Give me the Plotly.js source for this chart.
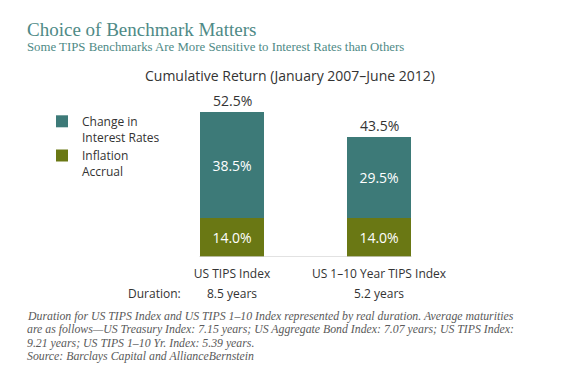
<!DOCTYPE html>
<html>
<head>
<meta charset="utf-8">
<script src="https://cdn.plot.ly/plotly-3.0.1.min.js"></script>
<style>
html,body{margin:0;padding:0;background:#fff;}
#chart{width:580px;height:381px;}
</style>
</head>
<body>
<div id="chart"></div>
<script>
// ---- data ----
const categories = ["US TIPS Index", "US 1\u201310 Year TIPS Index"];
const inflationAccrual = [14.0, 14.0];
const changeInRates = [38.5, 29.5];
const durations = ["8.5 years", "5.2 years"];
const seriesNames = ["Inflation<br>Accrual", "Change in<br>Interest Rates"];
const footnoteLines = [
  "Duration for US TIPS Index and US TIPS 1\u201310 Index represented by real duration. Average maturities",
  "are as follows\u2014US Treasury Index: 7.15 years; US Aggregate Bond Index: 7.07 years; US TIPS Index:",
  "9.21 years; US TIPS 1\u201310 Yr. Index: 5.39 years.",
  "Source: Barclays Capital and AllianceBernstein"
];

// ---- helpers: pixel -> paper (margins are zero) ----
const W = 580, H = 381;
const px = x => x / W;
const py = y => 1 - y / H;

const SANS = "'Open Sans', 'Noto Sans', sans-serif";
const SERIF = "'Liberation Serif', 'DejaVu Serif', serif";
const TEAL = "rgb(61,122,120)";
const OLIVE = "rgb(106,120,20)";
const TITLE_C = "rgb(78,138,134)";

const totals = categories.map((c, i) => inflationAccrual[i] + changeInRates[i]);

const traces = [
  {
    type: "bar", name: seriesNames[0], x: categories, y: inflationAccrual,
    marker: {color: OLIVE, line: {width: 0}},
    texttemplate: "%{y:.1f}%", textposition: "inside", insidetextanchor: "middle",
    textfont: {color: "#ffffff", size: 14, family: SANS}, constraintext: "none",
    hoverinfo: "skip"
  },
  {
    type: "bar", name: seriesNames[1], x: categories, y: changeInRates,
    marker: {color: TEAL, line: {width: 0}},
    texttemplate: "%{y:.1f}%", textposition: "inside", insidetextanchor: "middle",
    textfont: {color: "#ffffff", size: 14, family: SANS}, constraintext: "none",
    hoverinfo: "skip"
  }
];

const annotations = [];
// main title & subtitle
annotations.push({xref: "paper", yref: "paper", x: px(25), y: py(29), xanchor: "left", yanchor: "middle",
  text: "Choice of Benchmark Matters", showarrow: false, font: {family: SERIF, size: 19, color: TITLE_C}});
annotations.push({xref: "paper", yref: "paper", x: px(25), y: py(46.5), xanchor: "left", yanchor: "middle",
  text: "Some TIPS Benchmarks Are More Sensitive to Interest Rates than Others", showarrow: false,
  font: {family: SERIF, size: 12.8, color: TITLE_C}});
// chart title
annotations.push({xref: "paper", yref: "paper", x: px(290), y: py(75), xanchor: "center", yanchor: "middle",
  text: "Cumulative Return (January 2007\u2013June 2012)", showarrow: false,
  font: {family: SANS, size: 14, color: "#333333"}});
// totals
categories.forEach((c, i) => {
  annotations.push({xref: "x", yref: "y", x: c, y: totals[i], yanchor: "bottom", yshift: 0,
    text: totals[i].toFixed(1) + "%", showarrow: false, font: {family: SANS, size: 14, color: "#333333"}});
  annotations.push({xref: "x", yref: "paper", x: c, y: py(293), yanchor: "middle",
    text: durations[i], showarrow: false, font: {family: SANS, size: 12, color: "#333333"}});
});
annotations.push({xref: "paper", yref: "paper", x: px(183), y: py(293), xanchor: "right", yanchor: "middle",
  text: "Duration:", showarrow: false, font: {family: SANS, size: 12, color: "#333333"}});
// footnote
footnoteLines.forEach((t, i) => {
  annotations.push({xref: "paper", yref: "paper", x: px(25), y: py(316 + i * 13.3), xanchor: "left", yanchor: "middle",
    text: "<i>" + t + "</i>", showarrow: false, font: {family: SERIF, size: 11.8, color: "#5a5a5a"}});
});

const layout = {
  width: W, height: H,
  margin: {l: 0, r: 0, t: 0, b: 0, pad: 0},
  paper_bgcolor: "#ffffff", plot_bgcolor: "#ffffff",
  barmode: "stack", bargap: 0.56,
  showlegend: true,
  legend: {
    x: px(42), y: py(107), xanchor: "left", yanchor: "top",
    traceorder: "reversed", valign: "top",
    font: {family: SANS, size: 12, color: "#333333"},
    bgcolor: "rgba(0,0,0,0)", tracegroupgap: 0, itemwidth: 30
  },
  xaxis: {
    domain: [px(158.5), px(452.5)], type: "category", range: [-0.5, 1.5],
    showgrid: false, zeroline: false, showline: false, ticks: "",
    tickfont: {family: SANS, size: 12, color: "#333333"}, ticklabelstandoff: 8, fixedrange: true
  },
  yaxis: {
    domain: [py(256.7), py(100)], range: [0, (256.7 - 100) / 2.75],
    visible: false, showgrid: false, zeroline: false, fixedrange: true
  },
  shapes: [{type: "line", xref: "x", yref: "y", x0: -0.222, x1: 1.222, y0: 0, y1: 0,
    line: {color: "#cfcfcf", width: 1}}],
  annotations: annotations
};

Plotly.newPlot("chart", traces, layout, {displayModeBar: false, staticPlot: true});
</script>
</body>
</html>
